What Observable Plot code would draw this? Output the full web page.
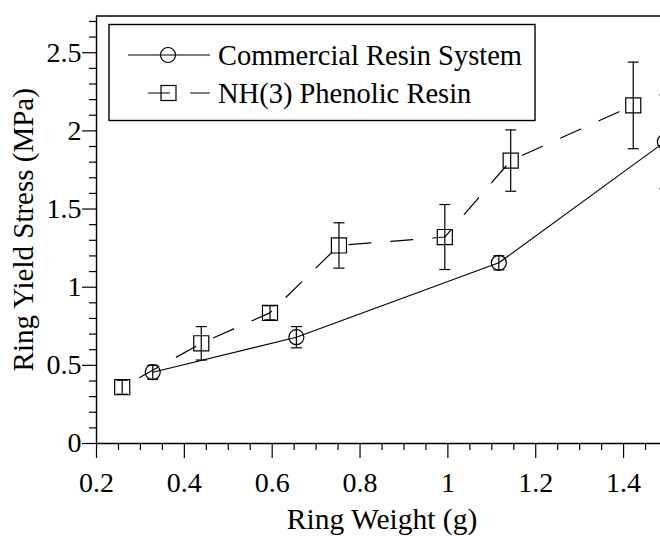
<!DOCTYPE html>
<html>
<head>
<meta charset="utf-8">
<script src="https://cdn.jsdelivr.net/npm/d3@7"></script>
<script src="https://cdn.jsdelivr.net/npm/@observablehq/plot@0.6"></script>
<style>
  html, body { margin: 0; padding: 0; background: #fff; overflow: hidden; }
  #wrap { position: relative; width: 660px; height: 536px; overflow: hidden; background: #fff; }
  #wrap svg { max-width: none !important; }
  #legend { position: absolute; left: 0; top: 0; }
</style>
</head>
<body>
<div id="wrap"></div>
<script>
// ---- data ----
const commercialX = [0.328, 0.655, 1.116, 1.494];
const commercialY = [0.456, 0.68, 1.156, 1.93];
const commercialErr = [0.045, 0.068, 0.045, 0.3];

const phenolicX = [0.2585, 0.4385, 0.595, 0.752, 0.993, 1.143, 1.422];
const phenolicY = [0.36, 0.641, 0.836, 1.267, 1.321, 1.81, 2.163];
const phenolicErr = [0.045, 0.107, 0.045, 0.145, 0.208, 0.196, 0.277];

const seriesNames = ["Commercial Resin System", "NH(3) Phenolic Resin"];

const xMajorTicks = [0.2, 0.4, 0.6, 0.8, 1, 1.2, 1.4];
const xMinorTicks = d3.range(0.25, 1.5, 0.05).filter(v => Math.abs(v * 5 - Math.round(v * 5)) > 1e-6);
const yMajorTicks = [0, 0.5, 1, 1.5, 2, 2.5];
const yMinorTicks = d3.range(0.1, 2.75, 0.1).filter(v => Math.abs(v * 2 - Math.round(v * 2)) > 1e-6);

const commercial = commercialX.map((x, i) => ({x, y: commercialY[i], e: commercialErr[i]}));
const phenolic = phenolicX.map((x, i) => ({x, y: phenolicY[i], e: phenolicErr[i]}));

const font = "'Liberation Serif', 'Times New Roman', serif";
const ink = "#000";
const DASH = "22,20";

// horizontal cap symbol for error bars
const capSymbol = {
  draw(context, size) {
    const w = 5.5;
    context.moveTo(-w, 0);
    context.lineTo(w, 0);
  }
};

const chart = Plot.plot({
  width: 667,
  height: 536,
  marginLeft: 96,
  marginRight: 0,
  marginTop: 15.5,
  marginBottom: 93,
  x: {domain: [0.2, 1.5]},
  y: {domain: [0, 2.735]},
  style: {fontFamily: font, fontSize: "28px", color: ink, background: "#fff", overflow: "visible", maxWidth: "none"},
  marks: [
    // axes
    Plot.axisY({ticks: yMajorTicks, tickSize: 14, tickPadding: 1, tickFormat: d => String(d), fontSize: 28,
      label: null, strokeWidth: 1.2}),
    Plot.axisY({ticks: [], label: "Ring Yield Stress (MPa)", labelArrow: "none", labelAnchor: "center",
      labelOffset: 84, fontSize: 29}),
    Plot.axisY({ticks: yMinorTicks, tickSize: 7, text: null, label: null, strokeWidth: 1.2}),
    Plot.axisX({ticks: xMajorTicks, tickSize: 15, tickPadding: 14, tickFormat: d => String(d), fontSize: 28,
      label: null, strokeWidth: 1.2}),
    Plot.axisX({ticks: [], label: "Ring Weight (g)", labelArrow: "none", labelAnchor: "center",
      labelOffset: 85, fontSize: 29.5}),
    Plot.axisX({ticks: xMinorTicks, tickSize: 7, text: null, label: null, strokeWidth: 1.2}),
    Plot.ruleX([0.2], {stroke: ink, strokeWidth: 1.4}),
    Plot.ruleY([0], {stroke: ink, strokeWidth: 1.4}),
    Plot.ruleY([2.735], {stroke: ink, strokeWidth: 1.4}),
    Plot.ruleX([1.5], {stroke: ink, strokeWidth: 1.4}),

    // Commercial series
    Plot.line(commercial, {x: "x", y: "y", stroke: ink, strokeWidth: 1.2}),
    Plot.ruleX(commercial, {x: "x", y1: d => d.y - d.e, y2: d => d.y + d.e, stroke: ink, strokeWidth: 1.2}),
    Plot.dot(commercial, {x: "x", y: d => d.y - d.e, symbol: capSymbol, r: 5, stroke: ink, strokeWidth: 1.2}),
    Plot.dot(commercial, {x: "x", y: d => d.y + d.e, symbol: capSymbol, r: 5, stroke: ink, strokeWidth: 1.2}),
    Plot.dot(commercial, {x: "x", y: "y", r: 7.5, symbol: "circle", fill: "none", stroke: ink, strokeWidth: 1.2}),

    // Phenolic series
    Plot.line(phenolic, {x: "x", y: "y", stroke: ink, strokeWidth: 1.2, strokeDasharray: DASH, strokeDashoffset: 22}),
    Plot.ruleX(phenolic, {x: "x", y1: d => d.y - d.e, y2: d => d.y + d.e, stroke: ink, strokeWidth: 1.2}),
    Plot.dot(phenolic, {x: "x", y: d => d.y - d.e, symbol: capSymbol, r: 5, stroke: ink, strokeWidth: 1.2}),
    Plot.dot(phenolic, {x: "x", y: d => d.y + d.e, symbol: capSymbol, r: 5, stroke: ink, strokeWidth: 1.2}),
    Plot.dot(phenolic, {x: "x", y: "y", r: 8.5, symbol: "square", fill: "none", stroke: ink, strokeWidth: 1.2})
  ]
});

const wrap = document.getElementById("wrap");
wrap.appendChild(chart);

// ---- legend (overlay) ----
const ns = "http://www.w3.org/2000/svg";
const lg = document.createElementNS(ns, "svg");
lg.setAttribute("id", "legend");
lg.setAttribute("width", 660);
lg.setAttribute("height", 140);
lg.innerHTML = `
  <rect x="109" y="24.5" width="426" height="96" fill="#fff" stroke="#000" stroke-width="1.4"/>
  <line x1="128" y1="55" x2="210" y2="55" stroke="#000" stroke-width="1.2"/>
  <circle cx="168" cy="55" r="7.5" fill="none" stroke="#000" stroke-width="1.2"/>
  <line x1="128" y1="93" x2="210" y2="93" stroke="#000" stroke-width="1.2" stroke-dasharray="${DASH}" stroke-dashoffset="22"/>
  <rect x="161" y="85.5" width="15" height="15" fill="none" stroke="#000" stroke-width="1.2"/>
  <text x="218" y="64.5" font-family="${font}" font-size="28.5">${seriesNames[0]}</text>
  <text x="218" y="102.5" font-family="${font}" font-size="28.5">${seriesNames[1]}</text>
`;
wrap.appendChild(lg);
</script>
</body>
</html>
